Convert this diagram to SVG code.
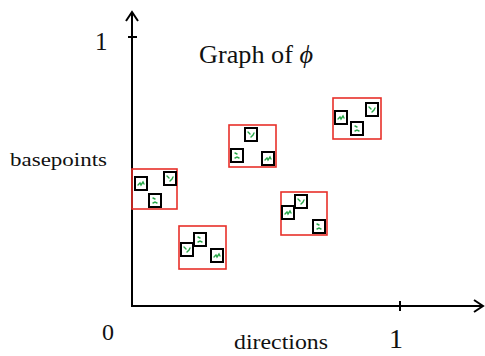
<svg xmlns="http://www.w3.org/2000/svg" width="485" height="356" viewBox="0 0 485 356">
<style>
.ax{stroke:#000;stroke-width:2;fill:none}
.rb{fill:none;stroke:#e8302a;stroke-width:1.6}
.bs{fill:#fff;stroke:#000;stroke-width:2}
.g{fill:none;stroke:#2aa84a;stroke-width:1.4;stroke-linecap:round}
.t{font-family:"Liberation Serif","DejaVu Serif",serif;fill:#111}
</style>
<defs>
<g id="sq1"><rect class="bs" x="0" y="0" width="12" height="13"/><path class="g" d="M3 8 L5 6 L6 8 L8 5 L9 7"/></g>
<g id="sq2"><rect class="bs" x="0" y="0" width="12" height="13"/><path class="g" d="M3 4 L5 6 M6 9 L8 7 L9 5"/></g>
<g id="sq3"><rect class="bs" x="0" y="0" width="12" height="13"/><path class="g" d="M4 4 L6 5 M4 9 L6 8 L8 9"/></g>
</defs>
<g id="axes">
<path class="ax" d="M132 306 V13 M126 21 L132 12 L138 21"/>
<path class="ax" d="M128 37 H137"/>
<path class="ax" d="M131 306 H482 M474 300 L483 306 L474 312"/>
<path class="ax" d="M400 301 V311"/>
</g>
<g id="labels">
<text class="t" x="95" y="50" font-size="25">1</text>
<text class="t" x="199" y="63" font-size="25" textLength="114" lengthAdjust="spacingAndGlyphs">Graph of <tspan font-style="italic">ϕ</tspan></text>
<text class="t" x="10" y="166" font-size="19" textLength="97" lengthAdjust="spacingAndGlyphs">basepoints</text>
<text class="t" x="102" y="340" font-size="24">0</text>
<text class="t" x="234" y="349" font-size="20" textLength="94" lengthAdjust="spacingAndGlyphs">directions</text>
<text class="t" x="389" y="348" font-size="28">1</text>
</g>
<g id="cluster1">
<rect class="rb" x="132" y="169" width="45" height="40"/>
<use href="#sq1" x="135" y="177"/>
<use href="#sq2" x="164" y="172"/>
<use href="#sq3" x="149" y="194"/>
</g>
<g id="cluster2">
<rect class="rb" x="179" y="226" width="47" height="43"/>
<use href="#sq2" x="181" y="243"/>
<use href="#sq3" x="194" y="233"/>
<use href="#sq1" x="211" y="249"/>
</g>
<g id="cluster3">
<rect class="rb" x="229" y="125" width="47" height="42"/>
<use href="#sq2" x="245" y="128"/>
<use href="#sq3" x="231" y="149"/>
<use href="#sq1" x="262" y="152"/>
</g>
<g id="cluster4">
<rect class="rb" x="281" y="192" width="46" height="43"/>
<use href="#sq1" x="282" y="206"/>
<use href="#sq2" x="295" y="195"/>
<use href="#sq3" x="313" y="220"/>
</g>
<g id="cluster5">
<rect class="rb" x="333" y="98" width="48" height="41"/>
<use href="#sq1" x="335" y="111"/>
<use href="#sq3" x="351" y="122"/>
<use href="#sq2" x="366" y="103"/>
</g>
</svg>
